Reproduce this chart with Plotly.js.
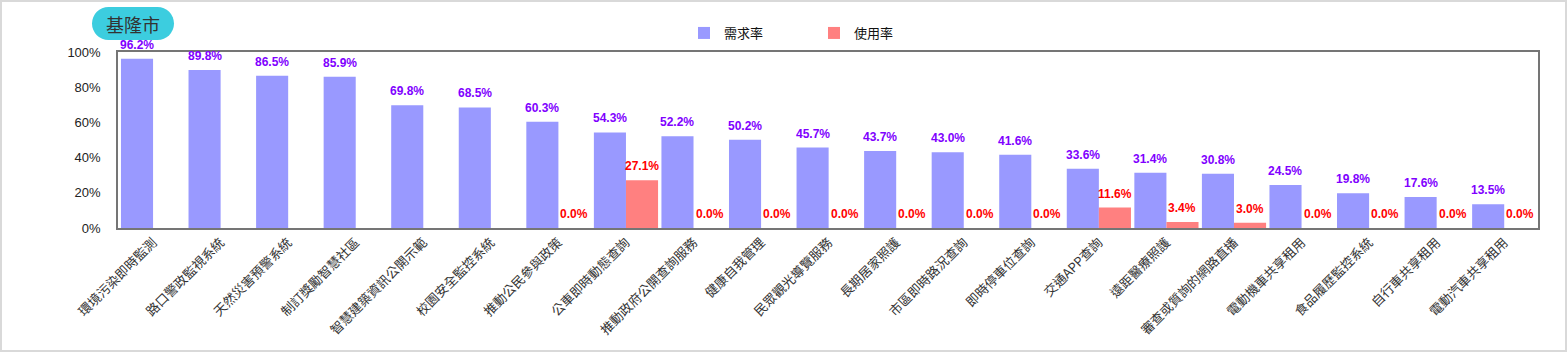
<!DOCTYPE html>
<html>
<head>
<meta charset="utf-8">
<script src="https://cdn.plot.ly/plotly-3.0.1.min.js"></script>
<style>
html,body{margin:0;padding:0;background:#fff;}
#wrap{position:relative;width:1567px;height:352px;}
#chart{width:1567px;height:352px;}
#frame{position:absolute;left:0;top:0;width:1563px;height:348px;border:2px solid #d9d9d9;pointer-events:none;z-index:10;}
</style>
</head>
<body>
<div id="wrap"><div id="chart"></div><div id="frame"></div></div>
<script>
var categories = ["環境污染即時監測","路口警政監視系統","天然災害預警系統","制訂獎勵智慧社區","智慧建築資訊公開示範","校園安全監控系統","推動公民參與政策","公車即時動態查詢","推動政府公開查詢服務","健康自我管理","民眾觀光導覽服務","長期居家照護","市區即時路況查詢","即時停車位查詢","交通APP查詢","遠距醫療照護","審查或質詢的網路直播","電動機車共享租用","食品履歷監控系統","自行車共享租用","電動汽車共享租用"];
var demandRate = [96.2,89.8,86.5,85.9,69.8,68.5,60.3,54.3,52.2,50.2,45.7,43.7,43.0,41.6,33.6,31.4,30.8,24.5,19.8,17.6,13.5];
var usageRate = [null,null,null,null,null,null,0.0,27.1,0.0,0.0,0.0,0.0,0.0,0.0,11.6,3.4,3.0,0.0,0.0,0.0,0.0];
var seriesNames = ["需求率","使用率"];
var yTicks = [0,20,40,60,80,100];
var titleText = "基隆市";

var numFont = "Liberation Sans, Arial, sans-serif";
var cjkFont = "Noto Sans CJK TC, Noto Sans CJK SC, sans-serif";

var L = 118, R = 29, T = 52, B = 124;
var pw = 1567 - L - R, ph = 352 - T - B;
var bargap = 0.05;
var barHalf = (pw / categories.length) * (1 - bargap) / 4; // centre offset of each bar in a group
var pillCx = (133 - L) / pw, pillCy = (352 - B - 23.5) / ph;

var traces = [
  {type:"bar", name:seriesNames[0], x:categories, y:demandRate,
   marker:{color:"#9999ff"}, hoverinfo:"x+y"},
  {type:"bar", name:seriesNames[1], x:categories, y:usageRate,
   marker:{color:"#ff8080"}, hoverinfo:"x+y"}
];

// value labels, positioned through the category / value axes
var annotations = [];
function addLabels(vals, shift, color) {
  vals.forEach(function(v, i) {
    if (v === null) return;
    annotations.push({x:categories[i], y:v, xref:"x", yref:"y", text:v.toFixed(1)+"%",
      showarrow:false, xanchor:"center", yanchor:"bottom", xshift:shift, yshift:5,
      font:{family:numFont, size:12, color:color, weight:"bold"}});
  });
}
addLabels(demandRate, -barHalf, "#8000ff");
addLabels(usageRate, barHalf, "#ff0000");
annotations.push({text:titleText, xref:"paper", yref:"paper", x:pillCx, y:pillCy, xanchor:"center", yanchor:"middle",
  showarrow:false, font:{family:cjkFont, size:18, color:"#333"}});

var layout = {
  width:1567, height:352,
  margin:{l:L, r:R, t:T, b:B, pad:0},
  paper_bgcolor:"#ffffff", plot_bgcolor:"#ffffff",
  barmode:"group", bargap:bargap, bargroupgap:0,
  showlegend:true,
  legend:{orientation:"h", x:(684 - L)/pw, xanchor:"left", y:1 + (52-33)/ph, yanchor:"middle",
          font:{family:cjkFont, size:13, color:"#111"}, entrywidth:85, entrywidthmode:"pixels",
          bgcolor:"rgba(0,0,0,0)"},
  xaxis:{type:"category", tickangle:-45, showline:true, mirror:true, linecolor:"#757575", linewidth:1.5,
         showgrid:false, zeroline:false, ticks:"", tickfont:{family:cjkFont, size:13, color:"#333"}, automargin:false},
  yaxis:{range:[0,100], tickvals:yTicks, ticktext:yTicks.map(function(v){return v+"%";}),
         showline:true, mirror:true, linecolor:"#757575", linewidth:1.5, showgrid:false, zeroline:false,
         ticks:"outside", ticklen:13, tickcolor:"rgba(0,0,0,0)", tickfont:{family:numFont, size:13, color:"#222"}, automargin:false},
  shapes:[
    {type:"rect", xref:"paper", yref:"paper", xsizemode:"pixel", ysizemode:"pixel", xanchor:pillCx, yanchor:pillCy,
     x0:-24.5, x1:24.5, y0:-16.5, y1:16.5, fillcolor:"#3ccddf", line:{width:0}},
    {type:"circle", xref:"paper", yref:"paper", xsizemode:"pixel", ysizemode:"pixel", xanchor:pillCx, yanchor:pillCy,
     x0:-41, x1:-8, y0:-16.5, y1:16.5, fillcolor:"#3ccddf", line:{width:0}},
    {type:"circle", xref:"paper", yref:"paper", xsizemode:"pixel", ysizemode:"pixel", xanchor:pillCx, yanchor:pillCy,
     x0:8, x1:41, y0:-16.5, y1:16.5, fillcolor:"#3ccddf", line:{width:0}}
  ],
  annotations:annotations
};

Plotly.newPlot("chart", traces, layout, {displayModeBar:false, responsive:false});
</script>
</body>
</html>
